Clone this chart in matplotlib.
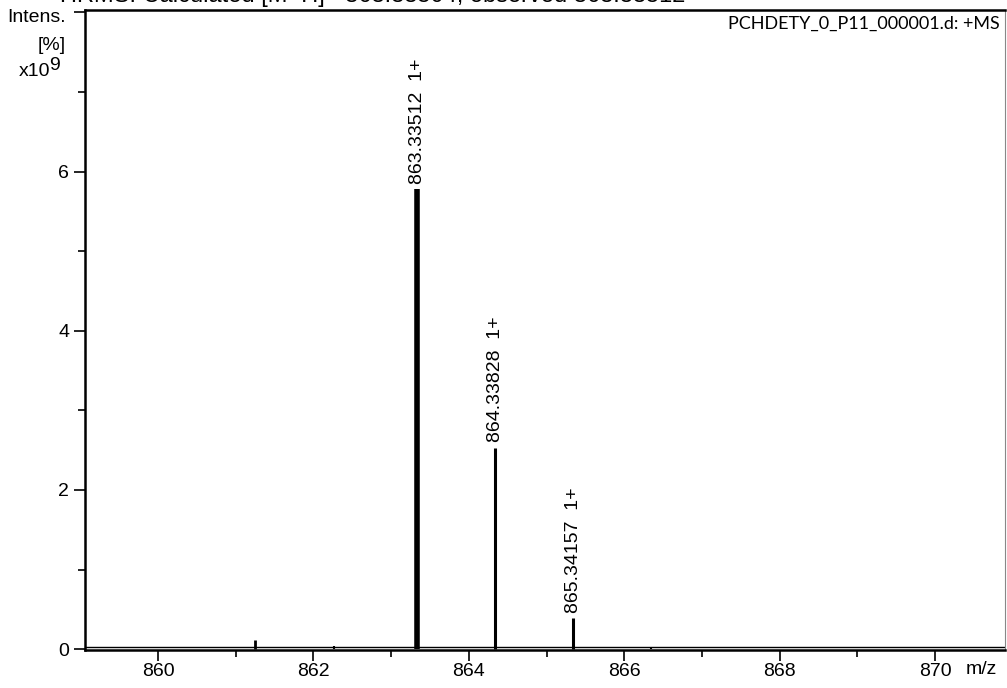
import matplotlib.pyplot as plt
import numpy as np

plt.rcParams["font.family"] = ["Liberation Sans", "DejaVu Sans"]

# peak list (m/z, intensity in 1e9)
peak_mz = [861.25, 862.27, 863.33512, 864.33828, 865.34157, 866.34]
peak_int = [0.12, 0.04, 5.78, 2.53, 0.39, 0.03]
peak_width = [2.0, 1.5, 4.0, 2.2, 2.2, 1.5]
labels = {863.33512: "863.33512  1+", 864.33828: "864.33828  1+", 865.34157: "865.34157  1+"}

x_ticks = [860, 862, 864, 866, 868, 870]
y_ticks = [0, 2, 4, 6, 8]

fs = 14

fig = plt.figure(figsize=(10.07, 6.88), dpi=100)
ax = fig.add_axes([85 / 1007, 38 / 688, 920 / 1007, 640 / 688])

# baseline + peaks
ax.axhline(0.03, color="black", lw=1.0, zorder=2)
for mz, h, w in zip(peak_mz, peak_int, peak_width):
    ax.vlines(mz, 0, h, color="black", lw=w, zorder=3)
    if mz in labels:
        ax.annotate(labels[mz], (mz, h), xytext=(0, 4), textcoords="offset points",
                    rotation=90, ha="center", va="bottom", fontsize=fs)

ax.set_xlim(859.06, 870.9)
ax.set_ylim(-0.01, 8.03)

ax.set_xticks(x_ticks)
ax.set_xticks([861, 863, 865, 867, 869], minor=True)
ax.set_yticks(y_ticks)
ax.set_yticklabels(["0", "2", "4", "6", ""])
ax.set_yticks([1, 3, 5, 7], minor=True)
ax.tick_params(axis="both", which="major", length=8, width=1.2, labelsize=fs, direction="out")
ax.tick_params(axis="both", which="minor", length=5, width=1.2, direction="out")
ax.tick_params(axis="x", pad=1)

for s in ["left", "bottom", "top"]:
    ax.spines[s].set_linewidth(1.8)
ax.spines["right"].set_linewidth(0.8)
ax.spines["right"].set_color("#888888")

# axis annotations in Bruker style
fig.text(66 / 1007, 1 - 17 / 688, "Intens.", ha="right", va="center", fontsize=fs)
fig.text(66 / 1007, 1 - 45 / 688, "[%]", ha="right", va="center", fontsize=fs)
fig.text(50 / 1007, 1 - 72 / 688, "x10", ha="right", va="center", fontsize=fs)
fig.text(49 / 1007, 1 - 66 / 688, "9", ha="left", va="center", fontsize=fs)
fig.text(966 / 1007, 1 - 670 / 688, "m/z", ha="left", va="center", fontsize=fs)
fig.text(1000 / 1007, 1 - 24 / 688, "PCHDETY_0_P11_000001.d: +MS", ha="right", va="center",
         fontsize=13, family=["Lato", "DejaVu Sans"])

# title, cut off at the top of the image as in the original
fig.text(60 / 1007, 1 - 2 / 688, "HRMS: Calculated [M+H]+ 863.33504, observed 863.33512",
         ha="left", va="baseline", fontsize=17)

fig.savefig("out.png", dpi=100)
